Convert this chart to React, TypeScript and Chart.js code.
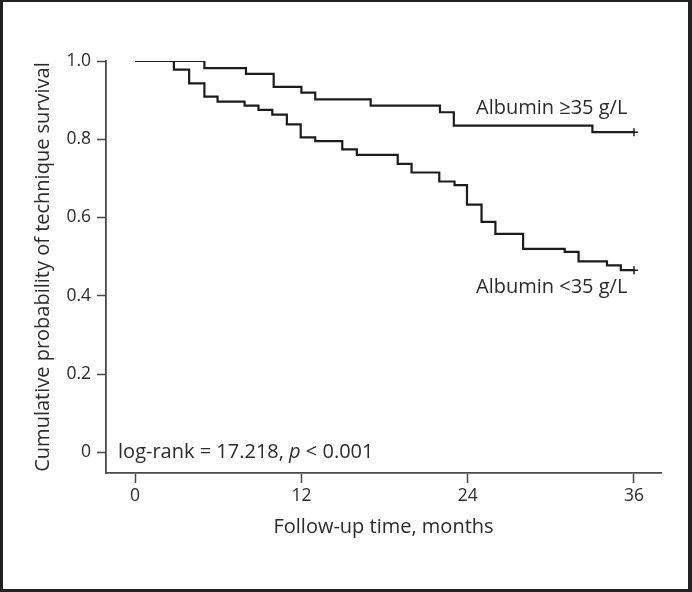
import React, { useEffect, useRef } from "react";
import { Chart, registerables } from "chart.js";

Chart.register(...registerables);

const xTicks = [0, 12, 24, 36];
const yTicks = [0, 0.2, 0.4, 0.6, 0.8, 1.0];

const highTimes = [0, 5, 8, 10, 12, 13, 17, 22, 23, 33, 36];
const highSurvival = [1, 0.982, 0.967, 0.934, 0.919, 0.902, 0.886, 0.869, 0.835, 0.818, 0.818];

const lowTimes = [0, 2.8, 3.9, 5, 5.95, 7.9, 8.9, 9.9, 10.95, 11.95, 13, 14.95, 16, 18.95, 19.95, 21.95, 23.05, 23.95, 25, 26, 28, 31, 32, 34.05, 35.05, 36];
const lowSurvival = [1, 0.978, 0.943, 0.909, 0.896, 0.886, 0.875, 0.863, 0.838, 0.805, 0.795, 0.774, 0.76, 0.737, 0.715, 0.692, 0.683, 0.633, 0.589, 0.558, 0.52, 0.512, 0.488, 0.4775, 0.4655, 0.4655];

const highLabel = "Albumin ≥35 g/L";
const lowLabel = "Albumin <35 g/L";
const statPrefix = "log-rank = 17.218, ";
const statItalic = "p";
const statSuffix = " < 0.001";
const xTitle = "Follow-up time, months";
const yTitle = "Cumulative probability of technique survival";

const FONT = "'Open Sans', 'Noto Sans', sans-serif";
const TEXT = "#2b2b2b";
const LINE = "#1c1c1c";
const AXIS = "#4a4a4a";
const BIG = 20;
const TICK = 17.5;

export default function App() {
  const ref = useRef<HTMLCanvasElement>(null);
  useEffect(() => {
    const mk = (t: number[], s: number[]) => t.map((x, i) => ({ x, y: s[i] }));
    const lastOnly = (n: number, r: number) => Array.from({ length: n }, (_, i) => (i === n - 1 ? r : 0));

    const textPlugin = {
      id: "textPlugin",
      beforeDraw(chart: any) {
        const c = chart.ctx;
        c.save();
        c.fillStyle = "#ffffff";
        c.fillRect(0, 0, chart.width, chart.height);
        c.restore();
      },
      afterDraw(chart: any) {
        const c = chart.ctx;
        const xs = chart.scales.x;
        const ys = chart.scales.y;
        c.save();
        c.fillStyle = TEXT;
        c.textBaseline = "middle";
        c.textAlign = "left";
        c.font = `${BIG}px ${FONT}`;
        c.fillText(highLabel, xs.getPixelForValue(24.6), ys.getPixelForValue(0.88));
        c.fillText(lowLabel, xs.getPixelForValue(24.6), ys.getPixelForValue(0.422));
        let px = xs.getPixelForValue(-1.23);
        const py = ys.getPixelForValue(0);
        c.fillText(statPrefix, px, py);
        px += c.measureText(statPrefix).width;
        c.font = `italic ${BIG}px ${FONT}`;
        c.fillText(statItalic, px, py);
        px += c.measureText(statItalic).width;
        c.font = `${BIG}px ${FONT}`;
        c.fillText(statSuffix, px, py);
        // frame
        c.fillStyle = "#222";
        c.fillRect(0, 0, chart.width, 2);
        c.fillRect(0, 0, 3, chart.height);
        c.fillRect(chart.width - 4, 0, 4, chart.height);
        c.fillRect(0, chart.height - 3, chart.width, 3);
        c.restore();
      },
    };

    const ds = (t: number[], s: number[]) => ({
      data: mk(t, s),
      borderColor: LINE,
      borderWidth: 2.2,
      stepped: "before",
      pointStyle: "cross",
      pointRadius: lastOnly(t.length, 4),
      pointBorderWidth: 1.5,
      pointBorderColor: LINE,
      fill: false,
    });

    const chart = new Chart(ref.current!, {
      type: "line",
      data: { datasets: [ds(highTimes, highSurvival), ds(lowTimes, lowSurvival)] },
      options: {
        animation: false,
        responsive: false,
        maintainAspectRatio: false,
        layout: { padding: { left: 0, top: 61, right: 31, bottom: 0 } },
        plugins: { legend: { display: false }, tooltip: { enabled: false } },
        scales: {
          x: {
            type: "linear",
            min: -2.1,
            max: 37.95,
            afterBuildTicks: (s: any) => {
              s.ticks = xTicks.map((v) => ({ value: v }));
            },
            afterFit: (s: any) => {
              s.height = 119;
            },
            grid: { drawOnChartArea: false, drawTicks: true, tickLength: 10, tickWidth: 1.5, tickColor: AXIS },
            border: { display: true, color: AXIS, width: 1.8 },
            ticks: { color: TEXT, font: { family: FONT, size: TICK }, padding: 3, maxRotation: 0, autoSkip: false },
            title: { display: true, text: xTitle, color: TEXT, font: { family: FONT, size: BIG }, padding: { top: 0, bottom: 53 } },
          },
          y: {
            type: "linear",
            min: -0.053,
            max: 1.0,
            afterBuildTicks: (s: any) => {
              s.ticks = yTicks.map((v) => ({ value: v }));
            },
            afterFit: (s: any) => {
              s.width = 106;
            },
            grid: { drawOnChartArea: false, drawTicks: true, tickLength: 9, tickWidth: 1.5, tickColor: AXIS },
            border: { display: true, color: AXIS, width: 1.8 },
            ticks: {
              color: TEXT,
              font: { family: FONT, size: TICK },
              padding: 6,
              autoSkip: false,
              callback: (v: any) => (Number(v) === 0 ? "0" : Number(v).toFixed(1)),
            },
            title: { display: true, text: yTitle, color: TEXT, font: { family: FONT, size: BIG }, padding: { top: 31, bottom: 0 } },
          },
        },
      },
      plugins: [textPlugin],
    } as any);
    return () => chart.destroy();
  }, []);
  return (
    <div style={{ position: "fixed", left: 0, top: 0, width: 692, height: 592 }}>
      <canvas ref={ref} width={692} height={592} style={{ display: "block", width: 692, height: 592 }} />
    </div>
  );
}
